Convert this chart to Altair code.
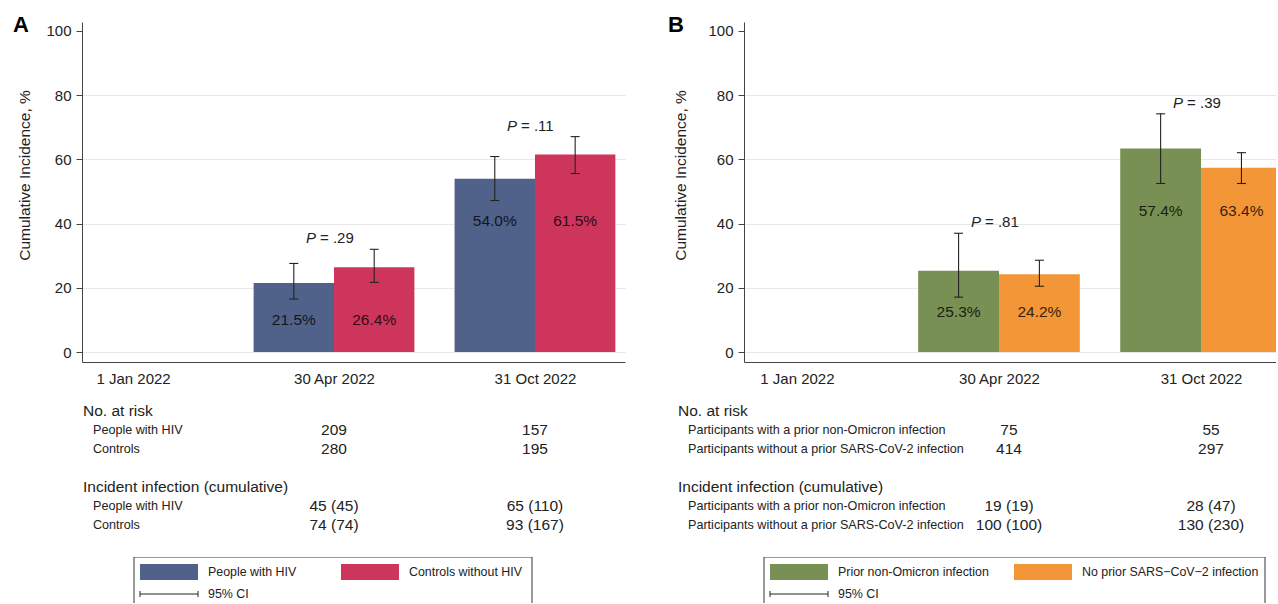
import json
import altair as alt
import pandas as pd

FONT = "Liberation Sans"
INK = "#222222"

# ---------------- data ----------------
dates = ["1 Jan 2022", "30 Apr 2022", "31 Oct 2022"]
visit_index = [1, 2]          # positions of the two follow-up visits among the dates
y_ticks = [0, 20, 40, 60, 80, 100]

# Panel A
a_groups = ["People with HIV", "Controls without HIV"]
a_colors = ["#506289", "#ce355c"]
a_hiv = [21.5, 54.0]
a_hiv_lo = [16.5, 47.2]
a_hiv_hi = [27.6, 60.9]
a_hiv_labels = ["21.5%", "54.0%"]
a_ctrl = [26.4, 61.5]
a_ctrl_lo = [21.7, 55.6]
a_ctrl_hi = [32.0, 67.1]
a_ctrl_labels = ["26.4%", "61.5%"]
a_p = [".29", ".11"]
a_rows = ["People with HIV", "Controls"]
a_risk = [[209, 157], [280, 195]]
a_inc = [[45, 65], [74, 93]]
a_cum = [[45, 110], [74, 167]]

# Panel B
b_groups = ["Prior non-Omicron infection", "No prior SARS\u2212CoV\u22122 infection"]
b_colors = ["#789054", "#f29638"]
b_prior = [25.3, 63.4]
b_prior_lo = [17.1, 52.5]
b_prior_hi = [37.0, 74.2]
b_prior_labels = ["25.3%", "57.4%"]
b_none = [24.2, 57.4]
b_none_lo = [20.5, 52.5]
b_none_hi = [28.6, 62.1]
b_none_labels = ["24.2%", "63.4%"]
b_p = [".81", ".39"]
b_rows = ["Participants with a prior non-Omicron infection",
          "Participants without a prior SARS-CoV-2 infection"]
b_risk = [[75, 55], [414, 297]]
b_inc = [[19, 28], [100, 130]]
b_cum = [[19, 47], [100, 230]]

# ---------------- layout constants ----------------
BAR_W = 0.4
PLOT_H = 340
Y_DOMAIN = [-3.1, 102.8]
TABLE_H = 131
LEGEND_H = 46
LEG_FS = 12.4


def panel(letter, groups, colors, series, pvals, rows, risk, inc, cum, geo):
    cap = 4.5 / geo["ppu"]
    recs = []
    for gi, (vals, lo, hi, labs) in enumerate(series):
        for ti, t in enumerate(visit_index):
            x0 = t - BAR_W + gi * BAR_W
            xc = x0 + BAR_W / 2
            recs.append(dict(group=groups[gi], fill=colors[gi], t=t, x0=x0, x1=x0 + BAR_W,
                             xc=xc, c0=xc - cap, c1=xc + cap, value=vals[ti], lo=lo[ti],
                             hi=hi[ti], label=labs[ti], base=0.0))
    df = pd.DataFrame(recs)
    gmin = df.groupby("t")["value"].transform("min")
    df["label_y"] = 0.944 * gmin - 10.3
    pdf = pd.DataFrame({"t": visit_index, "p": pvals})
    pdf["y"] = [df[df.t == t]["hi"].max() + 3.4 for t in visit_index]
    pdf["rest"] = ["= " + p for p in pvals]

    xs = alt.Scale(domain=[geo["xmin"], geo["xmax"]], nice=False, zero=False)
    ys = alt.Scale(domain=Y_DOMAIN, nice=False, zero=False)
    x_axis = alt.Axis(values=[0, 1, 2], labelExpr=json.dumps(dates) + "[datum.value]",
                      ticks=False, tickSize=0, labelPadding=9, grid=False, title=None,
                      domainColor="#444444", labelFontSize=15, labelColor=INK,
                      labelFont=FONT)
    y_axis = alt.Axis(values=y_ticks, title="Cumulative Incidence, %", tickSize=6,
                      labelPadding=5, grid=True, gridColor="#e8e8e8",
                      gridOpacity={"condition": {"test": "datum.value >= 100", "value": 0},
                                   "value": 1},
                      domainColor="#444444", tickColor="#444444", labelFontSize=15,
                      labelColor=INK, titleFontSize=15.5, titleFontWeight="normal",
                      titleColor=INK, titleX=geo["title_x"], titleY=153,
                      labelFont=FONT, titleFont=FONT)

    base = alt.Chart(df)
    bars = base.mark_rect(clip=True).encode(
        x=alt.X("x0:Q", scale=xs, axis=x_axis),
        x2="x1",
        y=alt.Y("value:Q", scale=ys, axis=y_axis),
        y2="base",
        color=alt.Color("fill:N", scale=None),
    )
    err = base.mark_rule(color=INK, strokeWidth=1.1).encode(x="xc:Q", y="lo:Q", y2="hi")
    cap_lo = base.mark_rule(color=INK, strokeWidth=1.1).encode(x="c0:Q", x2="c1", y="lo:Q")
    cap_hi = base.mark_rule(color=INK, strokeWidth=1.1).encode(x="c0:Q", x2="c1", y="hi:Q")
    labels = base.mark_text(fontSize=15.5, color="black", opacity=0.78, baseline="middle",
                            font=FONT).encode(x="xc:Q", y="label_y:Q", text="label:N")
    pb = alt.Chart(pdf)
    p_it = pb.mark_text(fontSize=15, fontStyle="italic", align="right", baseline="middle",
                        dx=-18, color=INK, font=FONT).encode(
        x="t:Q", y="y:Q", text=alt.value("P"))
    p_rest = pb.mark_text(fontSize=15, align="left", baseline="middle", dx=-14,
                          color=INK, font=FONT).encode(
        x="t:Q", y="y:Q", text="rest:N")
    letter_mark = alt.Chart(pd.DataFrame({"k": [0]})).mark_text(
        fontSize=22, fontWeight="bold", align="left", baseline="middle", color="black",
        font=FONT).encode(x=alt.value(geo["letter_x"]), y=alt.value(3), text=alt.value(letter))

    plot = alt.layer(bars, err, cap_lo, cap_hi, labels, p_it, p_rest, letter_mark).properties(
        width=geo["width"], height=PLOT_H)

    # ---- risk table ----
    lab_recs = [(0, "No. at risk", "head"), (1, rows[0], "row"), (2, rows[1], "row"),
                (4, "Incident infection (cumulative)", "head"), (5, rows[0], "row"),
                (6, rows[1], "row")]
    ldf = pd.DataFrame(lab_recs, columns=["row", "text", "kind"])
    vrecs = []
    for ti, t in enumerate(visit_index):
        vrecs.append((1, t, str(risk[0][ti])))
        vrecs.append((2, t, str(risk[1][ti])))
        vrecs.append((5, t, f"{inc[0][ti]} ({cum[0][ti]})"))
        vrecs.append((6, t, f"{inc[1][ti]} ({cum[1][ti]})"))
    vdf = pd.DataFrame(vrecs, columns=["row", "t", "text"])
    ty = alt.Scale(domain=[-0.895, 6.0], reverse=True, nice=False, zero=False)
    txs = alt.Scale(domain=[geo["xmin"], geo["xmax"]], nice=False, zero=False)
    nums = alt.Chart(vdf).mark_text(fontSize=15.5, align="center", baseline="middle",
                                    dx=geo["num_dx"], color=INK, font=FONT).encode(
        x=alt.X("t:Q", scale=txs, axis=None), y=alt.Y("row:Q", scale=ty, axis=None),
        text="text:N")
    heads = alt.Chart(ldf).transform_filter("datum.kind == 'head'").mark_text(
        fontSize=15.5, align="left", baseline="middle", color=INK, font=FONT).encode(
        x=alt.value(geo["head_x"]), y=alt.Y("row:Q", scale=ty, axis=None), text="text:N")
    rlabs = alt.Chart(ldf).transform_filter("datum.kind == 'row'").mark_text(
        fontSize=12.6, align="left", baseline="middle", color=INK, font=FONT).encode(
        x=alt.value(geo["head_x"] + 10), y=alt.Y("row:Q", scale=ty, axis=None), text="text:N")
    table = alt.layer(nums, heads, rlabs).properties(width=geo["width"], height=TABLE_H)

    # ---- legend ----
    one = alt.Chart(pd.DataFrame({"k": [0]}))
    lg = geo["legend"]
    box = one.mark_rect(fill="white", stroke="#333333", strokeWidth=1, clip=True).encode(
        x=alt.value(lg["box"][0]), x2=alt.value(lg["box"][1]), y=alt.value(0), y2=alt.value(70))
    sw1 = one.mark_rect(color=colors[0]).encode(
        x=alt.value(lg["sw1"]), x2=alt.value(lg["sw1"] + 58), y=alt.value(7), y2=alt.value(23))
    sw2 = one.mark_rect(color=colors[1]).encode(
        x=alt.value(lg["sw2"]), x2=alt.value(lg["sw2"] + 58), y=alt.value(7), y2=alt.value(23))
    t1 = one.mark_text(fontSize=LEG_FS, align="left", baseline="middle", color=INK, font=FONT).encode(
        x=alt.value(lg["sw1"] + 68), y=alt.value(15), text=alt.value(groups[0]))
    t2 = one.mark_text(fontSize=LEG_FS, align="left", baseline="middle", color=INK, font=FONT).encode(
        x=alt.value(lg["sw2"] + 68), y=alt.value(15), text=alt.value(groups[1]))
    ci = one.mark_rule(color=INK, strokeWidth=1).encode(
        x=alt.value(lg["sw1"]), x2=alt.value(lg["sw1"] + 58), y=alt.value(37))
    ci_l = one.mark_rule(color=INK, strokeWidth=1).encode(
        x=alt.value(lg["sw1"]), y=alt.value(34), y2=alt.value(40))
    ci_r = one.mark_rule(color=INK, strokeWidth=1).encode(
        x=alt.value(lg["sw1"] + 58), y=alt.value(34), y2=alt.value(40))
    t3 = one.mark_text(fontSize=LEG_FS, align="left", baseline="middle", color=INK, font=FONT).encode(
        x=alt.value(lg["sw1"] + 68), y=alt.value(37), text=alt.value("95% CI"))
    legend = alt.layer(box, sw1, sw2, t1, t2, ci, ci_l, ci_r, t3).properties(
        width=geo["width"], height=LEGEND_H)

    return alt.vconcat(plot, table, legend, spacing=32, bounds="flush")


geo_a = dict(xmin=-0.254, xmax=2.448, width=543, ppu=201, title_x=-50, letter_x=-69,
             head_x=1, num_dx=0, legend=dict(box=(52, 450), sw1=58, sw2=259))
geo_b = dict(xmin=-0.262, xmax=2.371, width=532, ppu=202, title_x=-56, letter_x=-76,
             head_x=-66, num_dx=10, legend=dict(box=(20, 521), sw1=26, sw2=270))

pa = panel("A", a_groups, a_colors,
           [(a_hiv, a_hiv_lo, a_hiv_hi, a_hiv_labels), (a_ctrl, a_ctrl_lo, a_ctrl_hi, a_ctrl_labels)],
           a_p, a_rows, a_risk, a_inc, a_cum, geo_a)
pb_ = panel("B", b_groups, b_colors,
            [(b_prior, b_prior_lo, b_prior_hi, b_prior_labels), (b_none, b_none_lo, b_none_hi, b_none_labels)],
            b_p, b_rows, b_risk, b_inc, b_cum, geo_b)

chart = alt.hconcat(pa, pb_, spacing=43, bounds="full").properties(
    padding={"left": 13, "top": 14, "right": 0, "bottom": 0},
    background="white",
).configure_view(stroke=None).configure_text(font=FONT)

chart.save("out.html", embed_options={"renderer": "svg", "actions": False})
